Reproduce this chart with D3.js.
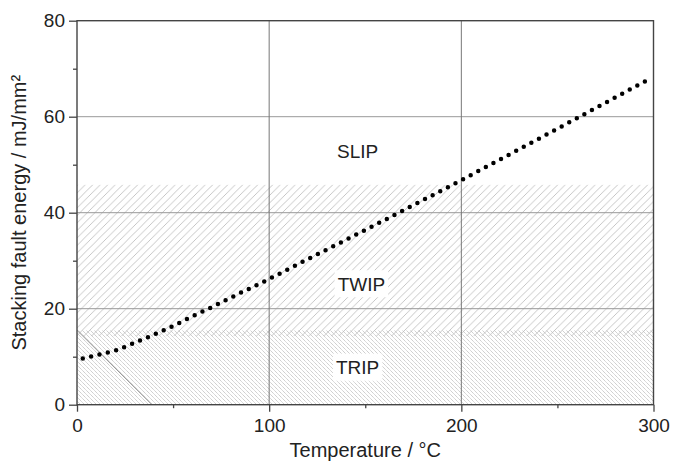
<!DOCTYPE html>
<html>
<head>
<meta charset="utf-8">
<script src="https://cdn.jsdelivr.net/npm/d3@7"></script>
<style>
  html, body { margin: 0; padding: 0; background: #fff; }
  svg { display: block; font-family: "Liberation Sans", Arial, sans-serif; }
</style>
</head>
<body>
<svg id="chart" width="673" height="462"></svg>
<script>
// ---- data ----
const temperature = [3, 10, 20, 30, 40, 50, 60, 70, 80, 100, 120, 150, 180, 200, 250, 298];
const sfe         = [9.6, 10.3, 11.3, 12.9, 14.6, 16.4, 18.4, 20.3, 22.3, 26.2, 30.3, 36.4, 42.6, 46.8, 57.5, 67.9];
const xMajorTicks = [0, 100, 200, 300];
const xMinorTicks = [50, 150, 250];
const yMajorTicks = [0, 20, 40, 60, 80];
const yMinorTicks = [10, 30, 50, 70];
const bandNames   = ["TRIP", "TWIP"];
const bandLow     = [0, 14.3];
const bandHigh    = [15.5, 45.8];
const regionLabels = ["SLIP", "TWIP", "TRIP"];
const regionLabelT = [146, 148, 146];
const regionLabelE = [52.9, 25.2, 7.8];
const boundaryT   = [0, 39];
const boundaryE   = [15.5, 0];
const xTitle = "Temperature / °C";
const yTitle = "Stacking fault energy / mJ/mm²";

// ---- layout ----
const svg = d3.select("#chart");
const L = 77, R = 653.5, T = 20.7, B = 404.7;
const x = d3.scaleLinear().domain([0, 300]).range([L, R]);
const y = d3.scaleLinear().domain([0, 80]).range([B, T]);

const defs = svg.append("defs");
// TWIP hatch "/"
const p1 = defs.append("pattern").attr("id", "hatchTwip")
  .attr("patternUnits", "userSpaceOnUse").attr("width", 7.5).attr("height", 7.5);
p1.append("path").attr("d", "M-1,1 l2,-2 M0,7.5 l7.5,-7.5 M6.5,8.5 l2,-2")
  .attr("stroke", "#b8b8b8").attr("stroke-width", 0.8).attr("fill", "none");
// TRIP hatch "\"
const p2 = defs.append("pattern").attr("id", "hatchTrip")
  .attr("patternUnits", "userSpaceOnUse").attr("width", 4).attr("height", 4);
p2.append("path").attr("d", "M-1,-1 l2,2 M0,0 l4,4 M3,3 l2,2")
  .attr("stroke", "#cbcbcb").attr("stroke-width", 0.7).attr("fill", "none");

const bandFill = { TRIP: "url(#hatchTrip)", TWIP: "url(#hatchTwip)" };
svg.append("g").selectAll("rect").data(bandNames).join("rect")
  .attr("x", x(0)).attr("width", x(300) - x(0))
  .attr("y", (d, i) => y(bandHigh[i]))
  .attr("height", (d, i) => y(bandLow[i]) - y(bandHigh[i]))
  .attr("fill", d => bandFill[d]);

// gridlines
const grid = svg.append("g");
grid.selectAll("line.h").data([20, 40, 60]).join("line").attr("class", "h")
  .attr("x1", x(0)).attr("x2", x(300)).attr("y1", d => y(d)).attr("y2", d => y(d))
  .attr("stroke", "#999").attr("stroke-width", 1);
grid.selectAll("line.v").data([100, 200]).join("line").attr("class", "v")
  .attr("y1", y(0)).attr("y2", y(80)).attr("x1", d => x(d)).attr("x2", d => x(d))
  .attr("stroke", "#777").attr("stroke-width", 1);

// boundary line
svg.append("line")
  .attr("x1", x(boundaryT[0])).attr("y1", y(boundaryE[0]))
  .attr("x2", x(boundaryT[1])).attr("y2", y(boundaryE[1]))
  .attr("stroke", "#999").attr("stroke-width", 1);

// region labels
const lg = svg.append("g").selectAll("g").data(regionLabels).join("g")
  .attr("transform", (d, i) => `translate(${x(regionLabelT[i])},${y(regionLabelE[i])})`);
lg.append("rect").attr("y", -13.5).attr("height", 27).attr("fill", "#fff");
lg.append("text").text(d => d).attr("text-anchor", "middle").attr("dy", "0.36em")
  .attr("font-size", 19).attr("fill", "#222");
lg.each(function() {
  const g = d3.select(this);
  const bb = g.select("text").node().getBBox();
  g.select("rect").attr("x", bb.x - 3).attr("width", bb.width + 6);
});

// dotted curve
const line = d3.line().x((d, i) => x(temperature[i])).y(d => y(d)).curve(d3.curveMonotoneX);
svg.append("path").datum(sfe).attr("d", line)
  .attr("fill", "none").attr("stroke", "#000").attr("stroke-width", 4.5)
  .attr("stroke-linecap", "round").attr("stroke-dasharray", "0,8.6");

// frame
svg.append("rect").attr("x", L).attr("y", T).attr("width", R - L).attr("height", B - T)
  .attr("fill", "none").attr("stroke", "#444").attr("stroke-width", 1.4);

// axes
const axisStyle = g => {
  g.select(".domain").remove();
  g.selectAll(".tick line").attr("stroke", "#444").attr("stroke-width", 1.3);
  g.selectAll(".tick text").attr("fill", "#222").attr("font-size", 19)
    .attr("font-family", "Liberation Sans, Arial, sans-serif");
};
svg.append("g").attr("transform", `translate(${L},0)`)
  .call(d3.axisLeft(y).tickValues(yMajorTicks).tickSize(8).tickPadding(4).tickFormat(d3.format("d")))
  .call(axisStyle);
svg.append("g").attr("transform", `translate(${L},0)`)
  .call(d3.axisLeft(y).tickValues(yMinorTicks).tickSize(4).tickFormat(""))
  .call(axisStyle);
svg.append("g").attr("transform", `translate(0,${B})`)
  .call(d3.axisBottom(x).tickValues(xMajorTicks).tickSize(7).tickPadding(7).tickFormat(d3.format("d")))
  .call(axisStyle);
svg.append("g").attr("transform", `translate(0,${B})`)
  .call(d3.axisBottom(x).tickValues(xMinorTicks).tickSize(3.5).tickFormat(""))
  .call(axisStyle);

// titles
svg.append("text").text(xTitle).attr("x", (L + R) / 2).attr("y", 457)
  .attr("text-anchor", "middle").attr("font-size", 20).attr("fill", "#222");
svg.append("text").text(yTitle)
  .attr("transform", `translate(26,${(T + B) / 2}) rotate(-90)`)
  .attr("text-anchor", "middle").attr("font-size", 20).attr("fill", "#222");
</script>
</body>
</html>
